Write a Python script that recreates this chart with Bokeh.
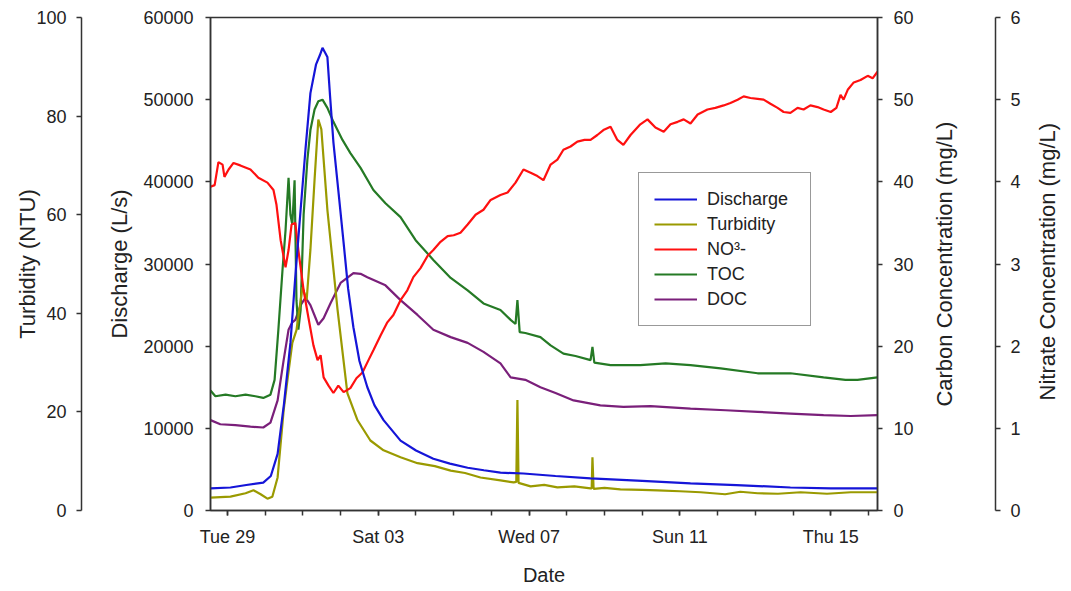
import math
from bokeh.plotting import figure
from bokeh.models import (Range1d, LinearAxis, FixedTicker, Legend, LegendItem,
                          NumeralTickFormatter)
from bokeh.embed import file_html
from bokeh.resources import INLINE

FONT = "Liberation Sans"

# ---------------- data (x in days since Tue 29, 00:00) ----------------
tick_days = [0, 4, 8, 12, 16]
tick_labels = ["Tue 29", "Sat 03", "Wed 07", "Sun 11", "Thu 15"]
minor_days = list(range(0, 18))

discharge_day = [-0.45, 0.08, 0.5, 0.95, 1.15, 1.33, 1.5, 1.67, 1.8, 1.94, 2.07, 2.2, 2.35,
                 2.45, 2.52, 2.58, 2.65, 2.72, 2.81, 2.95, 3.08, 3.2, 3.34, 3.5, 3.71, 3.9,
                 4.14, 4.59, 5.0, 5.46, 5.9, 6.37, 6.8, 7.24, 7.85, 8.7, 9.63, 11.0, 12.28,
                 13.5, 14.93, 16.0, 17.24]
discharge_val = [2700, 2800, 3100, 3400, 4200, 6900, 13000, 20400, 28500, 36600, 44000, 50800,
                 54300, 55400, 56300, 55800, 55200, 50500, 44800, 38500, 32600, 27000, 22300,
                 18200, 15000, 12800, 11000, 8500, 7300, 6300, 5700, 5200, 4900, 4600, 4500,
                 4200, 3900, 3600, 3300, 3100, 2800, 2700, 2700]

turbidity_day = [-0.45, 0.08, 0.48, 0.69, 0.88, 1.06, 1.19, 1.33, 1.49, 1.6, 1.72, 1.83, 1.99,
                 2.1, 2.2, 2.31, 2.41, 2.49, 2.65, 2.92, 3.18, 3.45, 3.79, 4.14, 4.59, 5.04,
                 5.5, 5.92, 6.3, 6.71, 7.24, 7.59, 7.66, 7.69, 7.72, 8.04, 8.4, 8.75, 9.2, 9.63,
                 9.66, 9.68, 9.71, 10.0, 10.42, 11.0, 11.41, 12.0, 12.55, 13.2, 13.6, 14.06,
                 14.6, 15.2, 15.9, 16.53, 17.24]
turbidity_val = [2.6, 2.8, 3.5, 4.1, 3.3, 2.4, 2.8, 6.7, 20.3, 27.0, 34.0, 36.6, 45.3, 42.7,
                 52.9, 67.1, 79.3, 77.3, 61.0, 40.7, 23.8, 18.3, 14.2, 12.2, 10.8, 9.6, 9.0,
                 8.1, 7.6, 6.7, 6.1, 5.7, 5.8, 22.4, 5.6, 4.9, 5.2, 4.7, 4.9, 4.5, 4.5, 10.8,
                 4.4, 4.6, 4.3, 4.2, 4.1, 3.9, 3.7, 3.3, 3.8, 3.5, 3.4, 3.7, 3.4, 3.7, 3.7]

nitrate_day = [-0.45, -0.34, -0.24, -0.13, -0.08, 0.03, 0.16, 0.34, 0.61, 0.82, 1.06, 1.22,
               1.3, 1.41, 1.54, 1.62, 1.7, 1.8, 1.88, 2.02, 2.15, 2.28, 2.39, 2.47, 2.55,
               2.68, 2.81, 2.94, 3.08, 3.26, 3.42, 3.58, 3.74, 3.87, 4.06, 4.24, 4.4, 4.59,
               4.77, 4.93, 5.12, 5.31, 5.46, 5.65, 5.84, 6.0, 6.18, 6.37, 6.58, 6.79, 6.98,
               7.24, 7.43, 7.64, 7.85, 8.04, 8.22, 8.38, 8.57, 8.75, 8.91, 9.1, 9.28, 9.47,
               9.63, 9.81, 9.97, 10.16, 10.34, 10.5, 10.69, 10.95, 11.14, 11.35, 11.57, 11.75,
               11.94, 12.1, 12.28, 12.47, 12.73, 12.94, 13.16, 13.34, 13.53, 13.69, 13.87,
               14.06, 14.22, 14.4, 14.59, 14.75, 14.93, 15.12, 15.28, 15.46, 15.65, 15.81,
               16.0, 16.15, 16.26, 16.34, 16.45, 16.61, 16.79, 16.98, 17.11, 17.24]
nitrate_val = [3.94, 3.96, 4.24, 4.21, 4.06, 4.15, 4.23, 4.2, 4.15, 4.05, 3.99, 3.9, 3.72,
               3.29, 2.96, 3.17, 3.48, 3.5, 3.17, 2.68, 2.34, 2.01, 1.83, 1.89, 1.62, 1.52,
               1.43, 1.52, 1.44, 1.49, 1.61, 1.68, 1.83, 1.95, 2.13, 2.29, 2.38, 2.56, 2.68,
               2.84, 2.95, 3.1, 3.17, 3.27, 3.34, 3.35, 3.38, 3.48, 3.6, 3.66, 3.78, 3.84,
               3.87, 3.99, 4.15, 4.11, 4.07, 4.02, 4.21, 4.27, 4.39, 4.43, 4.49, 4.51, 4.51,
               4.57, 4.63, 4.67, 4.51, 4.45, 4.57, 4.7, 4.76, 4.66, 4.61, 4.7, 4.73, 4.76,
               4.71, 4.82, 4.88, 4.9, 4.93, 4.96, 5.0, 5.04, 5.02, 5.01, 5.0, 4.95, 4.9, 4.85,
               4.84, 4.9, 4.88, 4.93, 4.91, 4.88, 4.85, 4.9, 5.06, 5.0, 5.12, 5.21, 5.24,
               5.29, 5.26, 5.34]

toc_day = [-0.45, -0.32, -0.05, 0.21, 0.48, 0.74, 0.95, 1.14, 1.25, 1.35, 1.46, 1.54, 1.62,
           1.67, 1.72, 1.78, 1.83, 1.88, 1.94, 2.02, 2.12, 2.2, 2.31, 2.41, 2.52, 2.65, 2.81,
           3.05, 3.26, 3.53, 3.87, 4.19, 4.59, 4.99, 5.46, 5.92, 6.37, 6.79, 7.24, 7.51, 7.64,
           7.69, 7.75, 7.9, 8.3, 8.57, 8.91, 9.23, 9.63, 9.68, 9.73, 10.16, 10.95, 11.62,
           12.28, 13.08, 14.06, 14.93, 15.81, 16.39, 16.71, 17.24]
toc_val = [14.6, 13.9, 14.1, 13.9, 14.1, 13.9, 13.7, 14.1, 15.9, 22.0, 29.3, 34.1, 40.5, 36.0,
           34.8, 40.2, 25.6, 22.0, 24.4, 36.0, 42.7, 46.3, 48.8, 49.8, 50.0, 49.0, 47.3, 45.1,
           43.5, 41.7, 39.0, 37.4, 35.7, 32.9, 30.5, 28.3, 26.8, 25.2, 24.4, 23.2, 22.7, 25.6,
           21.7, 21.6, 21.1, 20.1, 19.1, 18.8, 18.3, 19.9, 18.0, 17.7, 17.7, 17.9, 17.7, 17.3,
           16.7, 16.7, 16.2, 15.9, 15.9, 16.2]

doc_day = [-0.45, -0.19, 0.21, 0.61, 0.95, 1.14, 1.33, 1.49, 1.62, 1.72, 1.8, 1.94, 2.07, 2.2,
           2.34, 2.41, 2.55, 2.73, 3.0, 3.34, 3.53, 3.71, 4.19, 4.59, 5.04, 5.46, 5.92, 6.37,
           6.79, 7.24, 7.51, 7.9, 8.3, 8.7, 9.18, 9.89, 10.5, 11.22, 12.28, 13.21, 14.06,
           14.93, 15.81, 16.53, 17.24]
doc_val = [11.0, 10.5, 10.4, 10.2, 10.1, 10.7, 13.4, 18.3, 22.0, 22.9, 23.2, 25.0, 25.9, 25.0,
           23.4, 22.6, 23.4, 25.2, 27.7, 28.9, 28.8, 28.4, 27.4, 25.6, 23.8, 22.0, 21.1, 20.4,
           19.3, 17.9, 16.2, 15.9, 15.0, 14.3, 13.4, 12.8, 12.6, 12.7, 12.4, 12.2, 12.0, 11.8,
           11.6, 11.5, 11.6]

# ---------------- styling ----------------
AX = "#333333"
TXT = "#222222"
TICK_FS = "18px"
TITLE_FS = "22px"
FRAME_W, FRAME_H = 667, 493
TOP, LEFT = 17, 210
NB = "\u00a0"

p = figure(frame_width=FRAME_W, frame_height=FRAME_H, output_backend="svg",
           toolbar_location=None,
           x_range=Range1d(-0.45, 17.24), y_range=Range1d(0, 60000),
           min_border_left=LEFT, min_border_right=150, min_border_top=TOP, min_border_bottom=0)
p.extra_y_ranges = {"turb": Range1d(0, 100), "carb": Range1d(0, 60), "nit": Range1d(0, 6)}
p.xgrid.visible = False
p.ygrid.visible = False
p.outline_line_color = AX
p.outline_line_width = 1.5
p.background_fill_color = "white"
p.border_fill_color = "white"


def style_axis(ax, ticks, label, tick_standoff, title_standoff):
    ax.ticker = FixedTicker(ticks=ticks)
    ax.formatter = NumeralTickFormatter(format="0")
    ax.axis_label = label
    ax.axis_line_color = AX
    ax.axis_line_width = 1.5
    ax.major_tick_line_color = AX
    ax.major_tick_line_width = 1.5
    ax.major_tick_out = 5
    ax.major_tick_in = 0
    ax.minor_tick_out = 0
    ax.minor_tick_in = 0
    ax.major_label_standoff = tick_standoff
    ax.major_label_text_font = FONT
    ax.major_label_text_font_size = TICK_FS
    ax.major_label_text_color = TXT
    ax.axis_label_text_font = FONT
    ax.axis_label_text_font_size = TITLE_FS
    ax.axis_label_text_font_style = "normal"
    ax.axis_label_text_color = TXT
    ax.axis_label_standoff = title_standoff


def spacer(range_name, width):
    ax = LinearAxis(y_range_name=range_name, ticker=FixedTicker(ticks=[]),
                    axis_line_color=None, major_tick_out=0, major_tick_in=0,
                    minor_tick_out=0, minor_tick_in=0, major_label_standoff=0,
                    axis_label=NB, axis_label_text_font_size="1px",
                    axis_label_standoff=width)
    return ax


# discharge (inner left)
dis_ax = p.yaxis[0]
style_axis(dis_ax, [0, 10000, 20000, 30000, 40000, 50000, 60000], "Discharge (L/s)", 12, 8)

p.add_layout(spacer("turb", 19), "left")
turb_ax = LinearAxis(y_range_name="turb")
style_axis(turb_ax, [0, 20, 40, 60, 80, 100], "Turbidity (NTU)", 10, -7)
p.add_layout(turb_ax, "left")

# right-hand axes; titles read bottom to top like the reference
carb_ax = LinearAxis(y_range_name="carb")
style_axis(carb_ax, [0, 10, 20, 30, 40, 50, 60], NB * 17 + "Carbon Concentration (mg/L)", 11, 28)
carb_ax.axis_label_orientation = math.pi / 2
carb_ax.axis_label_align = "start"
p.add_layout(carb_ax, "right")

p.add_layout(spacer("nit", 19), "right")
nit_ax = LinearAxis(y_range_name="nit")
style_axis(nit_ax, [0, 1, 2, 3, 4, 5, 6], NB * 18 + "Nitrate Concentration (mg/L)", 10, 24)
nit_ax.axis_label_orientation = math.pi / 2
nit_ax.axis_label_align = "start"
p.add_layout(nit_ax, "right")

# x axis
xa = p.xaxis[0]
xa.ticker = FixedTicker(ticks=tick_days, minor_ticks=minor_days)
xa.major_label_overrides = {d: lab for d, lab in zip(tick_days, tick_labels)}
xa.axis_label = "Date"
xa.axis_line_color = AX
xa.axis_line_width = 1.5
xa.major_tick_line_color = AX
xa.major_tick_line_width = 1.5
xa.minor_tick_line_color = AX
xa.minor_tick_line_width = 1.5
xa.major_tick_out = 5
xa.major_tick_in = 0
xa.minor_tick_out = 5
xa.minor_tick_in = 0
xa.major_label_standoff = 11
xa.major_label_text_font = FONT
xa.major_label_text_font_size = TICK_FS
xa.major_label_text_color = TXT
xa.axis_label_text_font = FONT
xa.axis_label_text_font_size = "20px"
xa.axis_label_text_font_style = "normal"
xa.axis_label_text_color = TXT
xa.axis_label_standoff = 14

LW = 2.2
r_doc = p.line(doc_day, doc_val, y_range_name="carb", color="#7a1f7a", line_width=LW)
r_toc = p.line(toc_day, toc_val, y_range_name="carb", color="#257a25", line_width=LW)
r_turb = p.line(turbidity_day, turbidity_val, y_range_name="turb", color="#9a9a00", line_width=LW)
r_no3 = p.line(nitrate_day, nitrate_val, y_range_name="nit", color="#ff1010", line_width=LW)
r_dis = p.line(discharge_day, discharge_val, color="#1515d8", line_width=LW)

legend = Legend(items=[
    LegendItem(label="Discharge", renderers=[r_dis]),
    LegendItem(label="Turbidity", renderers=[r_turb]),
    LegendItem(label="NO\u00b3-", renderers=[r_no3]),
    LegendItem(label="TOC", renderers=[r_toc]),
    LegendItem(label="DOC", renderers=[r_doc]),
], location=(428, 184))
legend.border_line_color = AX
legend.border_line_width = 1.5
legend.background_fill_color = "white"
legend.background_fill_alpha = 1.0
legend.label_text_font = FONT
legend.label_text_font_size = "18px"
legend.label_text_color = TXT
legend.glyph_width = 43
legend.glyph_height = 22
legend.label_height = 22
legend.label_width = 88
legend.label_standoff = 10
legend.spacing = 3
legend.padding = 15
legend.margin = 0
p.add_layout(legend)

open("out.html", "w").write(file_html(p, INLINE))
